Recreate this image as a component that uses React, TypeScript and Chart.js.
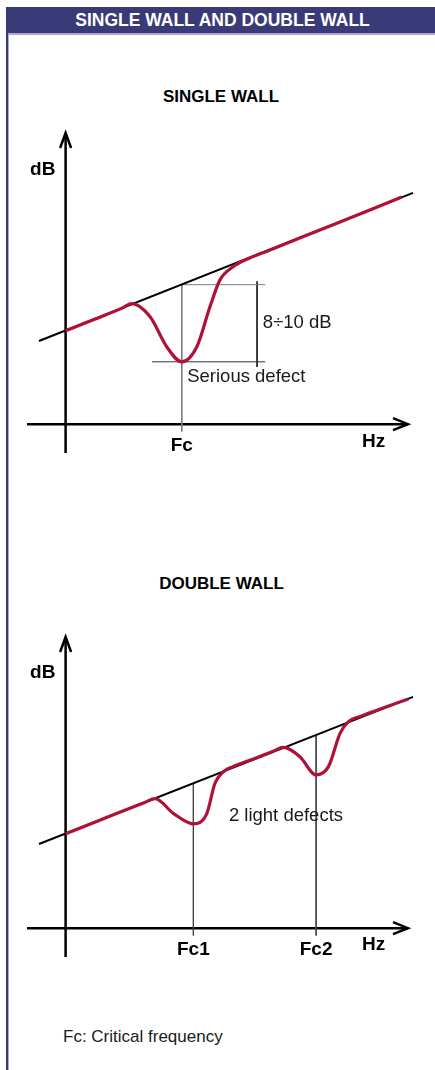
import React, { useEffect, useRef } from "react";
import { Chart, registerables } from "chart.js";

Chart.register(...registerables);

// ---- shared scale ranges (arbitrary frequency / dB units) ----
const X_MIN = -1;
const X_MAX = 9;
const Y_MIN = -0.9;
const Y_MAX = 9.1;
const X_AXIS_TIP = 8.87;

// ---- SINGLE WALL ----
const singleMassLaw = [
  { x: -0.69, y: 2.6 },
  { x: 9.0, y: 7.23 },
];
const singleCurve = [
  { x: 0, y: 2.92 },
  { x: 0.75, y: 3.28 },
  { x: 1.45, y: 3.62 },
  { x: 1.71, y: 3.77 },
  { x: 2.19, y: 3.36 },
  { x: 2.62, y: 2.42 },
  { x: 3.01, y: 1.95 },
  { x: 3.4, y: 2.42 },
  { x: 3.74, y: 3.67 },
  { x: 4.0, y: 4.51 },
  { x: 4.34, y: 4.92 },
  { x: 4.69, y: 5.15 },
  { x: 5.2, y: 5.4 },
  { x: 6.9, y: 6.22 },
  { x: 8.71, y: 7.1 },
];
const singleFc = 3.01;
const singleFcTop = 4.36;
const singleDipBottom = 1.95;
const singleDimX = 4.96;
const singleBracketLeft = 2.24;
const singleBracketRight = 5.17;

// ---- DOUBLE WALL ----
const doubleMassLaw = [
  { x: -0.69, y: 2.63 },
  { x: 9.0, y: 7.23 },
];
const doubleCurve = [
  { x: 0, y: 2.95 },
  { x: 1.0, y: 3.43 },
  { x: 2.05, y: 3.93 },
  { x: 2.32, y: 4.05 },
  { x: 2.79, y: 3.59 },
  { x: 3.31, y: 3.26 },
  { x: 3.66, y: 3.59 },
  { x: 3.87, y: 4.53 },
  { x: 4.09, y: 4.89 },
  { x: 4.34, y: 5.05 },
  { x: 4.85, y: 5.28 },
  { x: 5.38, y: 5.53 },
  { x: 5.64, y: 5.65 },
  { x: 6.07, y: 5.36 },
  { x: 6.49, y: 4.79 },
  { x: 6.81, y: 5.05 },
  { x: 7.11, y: 6.09 },
  { x: 7.32, y: 6.45 },
  { x: 7.63, y: 6.62 },
  { x: 8.1, y: 6.83 },
  { x: 8.88, y: 7.16 },
];
const doubleFc = [3.31, 6.49];
const doubleFcTop = [4.53, 6.04];

const TICK_BOTTOM = -0.23;

type Label = { text: string; x: number; y: number; align: CanvasTextAlign; bold: boolean; size: number };

const singleLabels: Label[] = [
  { text: "dB", x: -0.92, y: 7.94, align: "left", bold: true, size: 19 },
  { text: "Fc", x: singleFc, y: -0.68, align: "center", bold: true, size: 19 },
  { text: "Hz", x: 7.68, y: -0.56, align: "left", bold: true, size: 19 },
  { text: "8÷10 dB", x: 5.11, y: 3.16, align: "left", bold: false, size: 18.5 },
  { text: "Serious defect", x: 3.15, y: 1.47, align: "left", bold: false, size: 18.5 },
];

const doubleLabels: Label[] = [
  { text: "dB", x: -0.92, y: 7.97, align: "left", bold: true, size: 19 },
  { text: "Fc1", x: doubleFc[0], y: -0.68, align: "center", bold: true, size: 19 },
  { text: "Fc2", x: doubleFc[1], y: -0.68, align: "center", bold: true, size: 19 },
  { text: "Hz", x: 7.68, y: -0.52, align: "left", bold: true, size: 19 },
  { text: "2 light defects", x: 4.23, y: 3.51, align: "left", bold: false, size: 18.5 },
];

const RED = "#b01237";
const FONT = "'Liberation Sans', Arial, sans-serif";

const axesPlugin = {
  id: "arrowAxes",
  beforeDatasetsDraw(chart: any) {
    const { ctx, scales } = chart;
    const xs = scales.x;
    const ys = scales.y;
    ctx.save();
    ctx.strokeStyle = "#000";
    ctx.lineWidth = 2.5;
    ctx.lineCap = "butt";
    // x axis
    const x0 = xs.getPixelForValue(X_MIN);
    const x1 = xs.getPixelForValue(X_AXIS_TIP);
    const yz = ys.getPixelForValue(0);
    ctx.beginPath();
    ctx.moveTo(x0, yz);
    ctx.lineTo(x1, yz);
    ctx.stroke();
    ctx.beginPath();
    ctx.moveTo(x1 - 15, yz - 6);
    ctx.lineTo(x1, yz);
    ctx.lineTo(x1 - 15, yz + 6);
    ctx.stroke();
    // y axis
    const xz = xs.getPixelForValue(0);
    const y0 = ys.getPixelForValue(Y_MIN);
    const y1 = ys.getPixelForValue(Y_MAX);
    ctx.beginPath();
    ctx.moveTo(xz, y0);
    ctx.lineTo(xz, y1);
    ctx.stroke();
    ctx.beginPath();
    ctx.moveTo(xz - 5.5, y1 + 15);
    ctx.lineTo(xz, y1);
    ctx.lineTo(xz + 5.5, y1 + 15);
    ctx.stroke();
    ctx.restore();
  },
};

const labelsPlugin = {
  id: "textLabels",
  afterDatasetsDraw(chart: any, _args: any, opts: any) {
    const { ctx, scales } = chart;
    const labels: Label[] = opts.labels || [];
    ctx.save();
    ctx.textBaseline = "middle";
    labels.forEach((l) => {
      ctx.font = `${l.bold ? "bold " : ""}${l.size}px ${FONT}`;
      ctx.fillStyle = l.bold ? "#000" : "#1a1a1a";
      ctx.textAlign = l.align;
      ctx.fillText(l.text, scales.x.getPixelForValue(l.x), scales.y.getPixelForValue(l.y));
    });
    ctx.restore();
  },
};

function seg(points: { x: number; y: number }[], color: string, width: number, order: number) {
  return {
    data: points,
    borderColor: color,
    borderWidth: width,
    pointRadius: 0,
    fill: false,
    tension: 0,
    clip: false as any,
    order,
  };
}

function buildSingle() {
  return [
    { ...seg(singleCurve, RED, 3.2, 0), cubicInterpolationMode: "monotone" as const },
    seg(singleMassLaw, "#000", 2, 1),
    seg([{ x: singleFc, y: singleFcTop }, { x: singleFc, y: TICK_BOTTOM }], "#7d7d7d", 1, 2),
    seg([{ x: singleFc, y: singleFcTop }, { x: singleBracketRight, y: singleFcTop }], "#7d7d7d", 1, 2),
    seg([{ x: singleBracketLeft, y: singleDipBottom }, { x: singleBracketRight, y: singleDipBottom }], "#333", 1, 2),
    seg([{ x: singleDimX, y: singleFcTop + 0.1 }, { x: singleDimX, y: singleDipBottom - 0.16 }], "#222", 1, 2),
  ];
}

function buildDouble() {
  return [
    { ...seg(doubleCurve, RED, 3.2, 0), cubicInterpolationMode: "monotone" as const },
    seg(doubleMassLaw, "#000", 2, 1),
    seg([{ x: doubleFc[0], y: doubleFcTop[0] }, { x: doubleFc[0], y: TICK_BOTTOM }], "#444", 1, 2),
    seg([{ x: doubleFc[1], y: doubleFcTop[1] }, { x: doubleFc[1], y: TICK_BOTTOM }], "#444", 1, 2),
  ];
}

function makeConfig(datasets: any[], labels: Label[]): any {
  return {
    type: "line",
    data: { datasets },
    options: {
      responsive: false,
      animation: false,
      events: [],
      layout: { padding: { left: 27, right: 22, top: 133, bottom: 27 } },
      scales: {
        x: { type: "linear", min: X_MIN, max: X_MAX, display: false },
        y: { type: "linear", min: Y_MIN, max: Y_MAX, display: false },
      },
      plugins: {
        legend: { display: false },
        tooltip: { enabled: false },
        textLabels: { labels },
      },
    },
    plugins: [axesPlugin, labelsPlugin],
  };
}

function WallChart({ top, kind }: { top: number; kind: "single" | "double" }) {
  const ref = useRef<HTMLCanvasElement | null>(null);
  useEffect(() => {
    if (!ref.current) return;
    const cfg =
      kind === "single" ? makeConfig(buildSingle(), singleLabels) : makeConfig(buildDouble(), doubleLabels);
    const chart = new Chart(ref.current, cfg);
    return () => chart.destroy();
  }, [kind]);
  return (
    <canvas
      ref={ref}
      width={435}
      height={480}
      style={{ position: "absolute", left: 0, top, width: 435, height: 480, display: "block" }}
    />
  );
}

export default function App() {
  useEffect(() => {
    document.body.style.margin = "0";
  }, []);
  return (
    <div
      style={{
        position: "relative",
        width: 435,
        height: 1070,
        background: "#fff",
        fontFamily: FONT,
        overflow: "hidden",
      }}
    >
      <div
        style={{
          position: "absolute",
          left: 6,
          top: 7,
          width: 429,
          height: 26,
          background: "#3b3a78",
          color: "#fff",
          fontWeight: "bold",
          fontSize: 17.5,
          lineHeight: "27px",
          textAlign: "center",
          paddingLeft: 4,
          boxSizing: "border-box",
          whiteSpace: "nowrap",
        }}
      >
        SINGLE WALL AND DOUBLE WALL
      </div>
      <div style={{ position: "absolute", left: 9, top: 33, width: 426, height: 2, background: "#aaa9d4" }} />
      <div style={{ position: "absolute", left: 6, top: 33, width: 2, height: 1037, background: "#3b3a78" }} />
      <div style={{ position: "absolute", left: 8, top: 33, width: 1, height: 1037, background: "#aaa9d4" }} />
      <div
        style={{
          position: "absolute",
          left: 0,
          width: 442,
          top: 87,
          lineHeight: "20px",
          fontSize: 17,
          fontWeight: "bold",
          textAlign: "center",
          color: "#000",
        }}
      >
        SINGLE WALL
      </div>
      <div
        style={{
          position: "absolute",
          left: 0,
          width: 443,
          top: 574,
          lineHeight: "20px",
          fontSize: 17,
          fontWeight: "bold",
          textAlign: "center",
          color: "#000",
        }}
      >
        DOUBLE WALL
      </div>
      <WallChart top={0} kind="single" />
      <WallChart top={504} kind="double" />
      <div
        style={{
          position: "absolute",
          left: 63,
          top: 1027,
          lineHeight: "20px",
          fontSize: 17,
          color: "#1a1a1a",
          whiteSpace: "nowrap",
        }}
      >
        Fc: Critical frequency
      </div>
    </div>
  );
}
